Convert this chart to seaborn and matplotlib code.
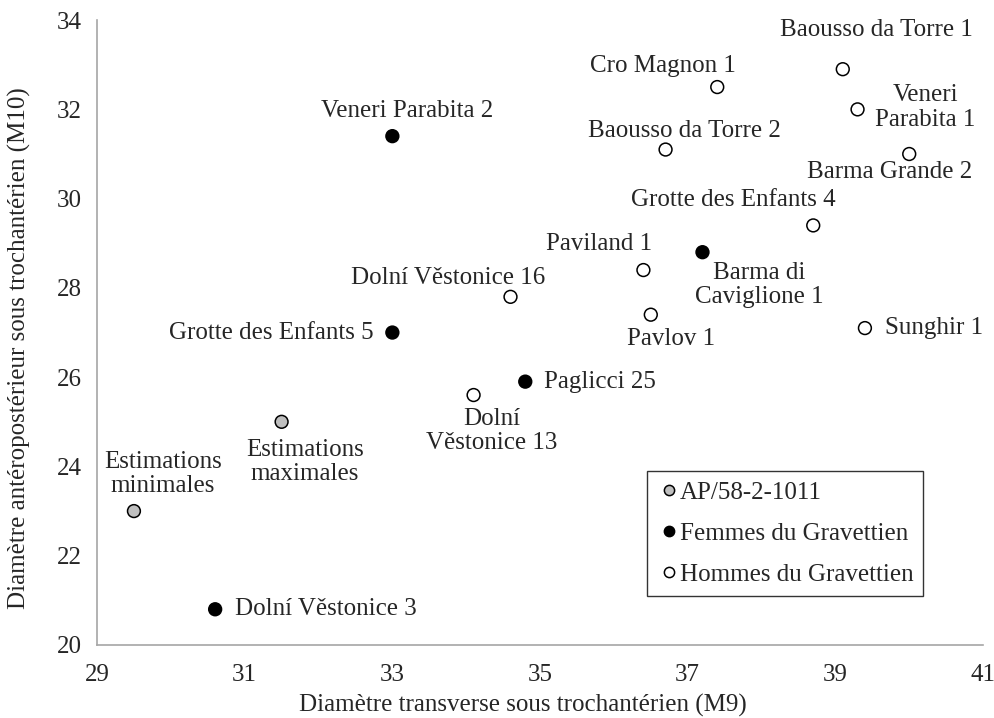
import pandas as pd
import matplotlib
matplotlib.use("Agg")
import matplotlib.pyplot as plt
import seaborn as sns

# data
names = ["Estimations\nminimales", "Estimations\nmaximales",
         "Dolní Věstonice 3", "Grotte des Enfants 5", "Veneri Parabita 2",
         "Paglicci 25", "Barma di\nCaviglione 1",
         "Dolní\nVěstonice 13", "Dolní Věstonice 16", "Paviland 1", "Pavlov 1",
         "Sunghir 1", "Grotte des Enfants 4", "Baousso da Torre 2",
         "Cro Magnon 1", "Baousso da Torre 1", "Veneri\nParabita 1",
         "Barma Grande 2"]
m9 = [29.5, 31.5,
      30.6, 33.0, 33.0, 34.8, 37.2,
      34.1, 34.6, 36.4, 36.5, 39.4, 38.7, 36.7, 37.4, 39.1, 39.3, 40.0]
m10 = [23.0, 25.0,
       20.8, 27.0, 31.4, 25.9, 28.8,
       25.6, 27.8, 28.4, 27.4, 27.1, 29.4, 31.1, 32.5, 32.9, 32.0, 31.0]
groups = ["AP/58-2-1011"] * 2 + ["Femmes du Gravettien"] * 5 + ["Hommes du Gravettien"] * 11
group_order = ["AP/58-2-1011", "Femmes du Gravettien", "Hommes du Gravettien"]

# label placement (offset in pixels from the point, alignment)
label_pos = {
    "Estimations\nminimales": ((29, 37), "center"),
    "Estimations\nmaximales": ((23, -40), "center"),
    "Dolní Věstonice 3": ((20, 0), "left"),
    "Grotte des Enfants 5": ((-19, 0), "right"),
    "Veneri Parabita 2": ((15, 25), "center"),
    "Paglicci 25": ((19, 0), "left"),
    "Barma di\nCaviglione 1": ((57, -33), "center"),
    "Dolní\nVěstonice 13": ((18, -36), "center"),
    "Dolní Věstonice 16": ((-62, 19), "center"),
    "Paviland 1": ((-44, 26), "center"),
    "Pavlov 1": ((20, -24), "center"),
    "Sunghir 1": ((20, 0), "left"),
    "Grotte des Enfants 4": ((-80, 25), "center"),
    "Baousso da Torre 2": ((19, 19), "center"),
    "Cro Magnon 1": ((-54, 21), "center"),
    "Baousso da Torre 1": ((34, 39), "center"),
    "Veneri\nParabita 1": ((68, 2), "center"),
    "Barma Grande 2": ((-20, -18), "center"),
}

df = pd.DataFrame({"name": names, "M9": m9, "M10": m10, "groupe": groups})

sns.set_style("white")
plt.rcParams["font.family"] = ["Liberation Serif", "DejaVu Serif"]
FS = 18

fig, ax = plt.subplots(figsize=(9.94, 7.18), dpi=100)
fig.subplots_adjust(left=0.0976, right=0.989, top=0.972, bottom=0.1017)

palette = {"AP/58-2-1011": "#bfbfbf", "Femmes du Gravettien": "black",
           "Hommes du Gravettien": "white"}
sns.scatterplot(data=df, x="M9", y="M10", hue="groupe", hue_order=group_order,
                palette=palette, s=85, edgecolor="black", linewidth=1.1,
                ax=ax, zorder=3)

for _, row in df.iterrows():
    (dx, dy), ha = label_pos[row["name"]]
    ax.annotate(row["name"], (row["M9"], row["M10"]), xytext=(dx, dy),
                textcoords="offset pixels", ha=ha, va="center",
                fontsize=FS, linespacing=1.15)

ax.set_xlim(29, 41)
ax.set_ylim(20, 34)
ax.set_xticks(range(29, 42, 2))
ax.set_yticks(range(20, 35, 2))
ax.tick_params(axis="y", labelsize=FS, length=0, pad=11)
ax.tick_params(axis="x", labelsize=FS, length=0, pad=13.5)
ax.set_xlabel("Diamètre transverse sous trochantérien (M9)", fontsize=FS)
ax.set_ylabel("Diamètre antéropostérieur sous trochantérien (M10)", fontsize=FS)
ax.xaxis.set_label_coords(0.481, -0.079)
ax.yaxis.set_label_coords(-0.0745, 0.475)

sns.despine(ax=ax)
for side in ["left", "bottom"]:
    ax.spines[side].set_color("#a6a6a6")
    ax.spines[side].set_linewidth(1.2)

leg = ax.legend(loc="lower left", bbox_to_anchor=(0.621, 0.078), fontsize=FS,
                frameon=True, fancybox=False, edgecolor="black",
                handletextpad=0.0, handlelength=0.9, borderpad=0.4,
                labelspacing=0.75, markerscale=0.8, borderaxespad=0)
leg.get_frame().set_linewidth(1.0)
for h in leg.legend_handles:
    h.set_markeredgecolor("black")

fig.savefig("out.png", dpi=100)
